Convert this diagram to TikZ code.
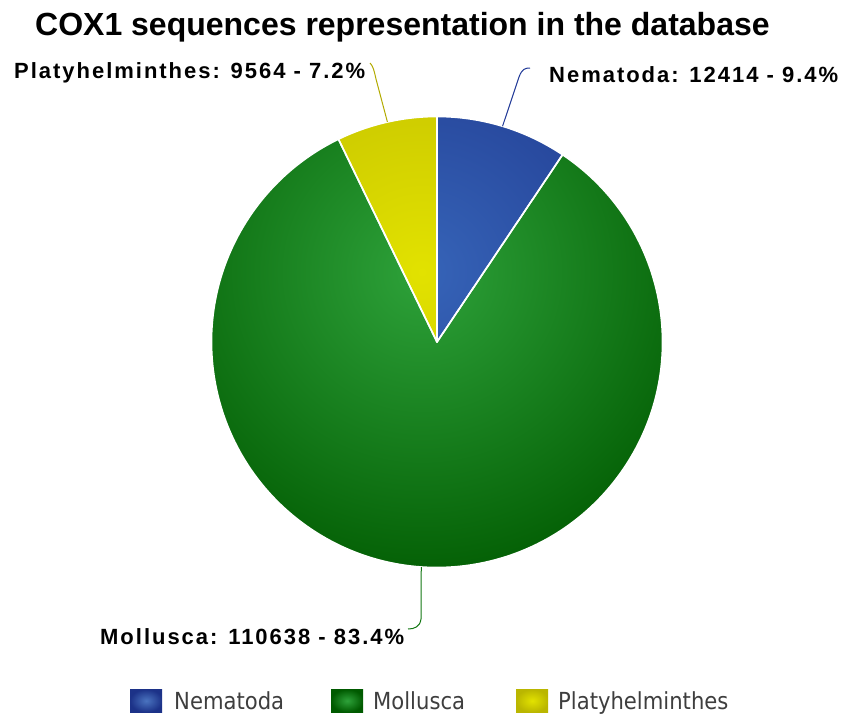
\documentclass[tikz,border=0pt]{standalone}
\usepackage{fontspec}
\usetikzlibrary{calc}
\setmainfont{Liberation Sans}
\newfontfamily\labelfont{Liberation Sans}[LetterSpace=9]
\newfontfamily\legendfont{DejaVu Sans Condensed}

\definecolor{nemIn}{RGB}{54,100,184}
\definecolor{nemOut}{RGB}{28,50,136}
\definecolor{molIn}{RGB}{46,162,58}
\definecolor{molOut}{RGB}{0,90,0}
\definecolor{plaIn}{RGB}{226,226,0}
\definecolor{plaOut}{RGB}{186,182,0}
\definecolor{nemLine}{RGB}{30,55,150}
\definecolor{molLine}{RGB}{20,120,20}
\definecolor{plaLine}{RGB}{178,170,0}
\definecolor{legendText}{RGB}{62,62,62}

% one pie slice between two angles (y axis points down)
\newcommand\pieslice[2]{(C) -- ++(#1:225.5) arc[start angle=#1, end angle=#2, radius=225.5] -- cycle}

\tikzset{
  slicefill/.style n args={2}{inner color=#1, outer color=#2},
  sliceedge/.style={draw=white, line width=1.6pt, line join=round},
  leader/.style={line width=1pt},
  datalabel/.style={font=\labelfont\bfseries\fontsize{22}{24}\selectfont, inner sep=0pt, anchor=base west},
  legendlabel/.style={font=\legendfont\fontsize{23.5}{25}\selectfont, text=legendText, inner sep=0pt, anchor=base west},
  legendkey/.style={minimum width=32pt, minimum height=23pt, inner sep=0pt, anchor=north west}
}

\begin{document}
\begin{tikzpicture}[x=1pt, y=-1pt]
  \useasboundingbox (0,0) rectangle (847,715);

  \coordinate (C) at (437,342);
  \coordinate (G) at (422,272);

  % title
  \node[font=\bfseries\fontsize{32}{36}\selectfont, inner sep=0pt, anchor=base west] (title) at (35,35) {COX1 sequences representation in the database};

  % slices with radial shading
  \begin{scope}
    \clip \pieslice{-90}{-56.16};
    \shade[slicefill={nemIn}{nemOut}] (G) circle[radius=330];
  \end{scope}
  \begin{scope}
    \clip \pieslice{-56.16}{244.08};
    \shade[slicefill={molIn}{molOut}] (G) circle[radius=330];
  \end{scope}
  \begin{scope}
    \clip \pieslice{244.08}{270};
    \shade[slicefill={plaIn}{plaOut}] (G) circle[radius=330];
  \end{scope}
  \path[sliceedge] \pieslice{-90}{-56.16};
  \path[sliceedge] \pieslice{-56.16}{244.08};
  \path[sliceedge] \pieslice{244.08}{270};

  % anchor points on the rim for the leader lines
  \coordinate (nemRim) at ($(C)+(-73.1:225.5)$);
  \coordinate (molRim) at ($(C)+(94:225.5)$);
  \coordinate (plaRim) at ($(C)+(257.3:225.5)$);

  % data labels
  \node[datalabel] (nemLabel) at (549,82) {Nematoda: 12414 - 9.4\%};
  \node[datalabel] (molLabel) at (100,644) {Mollusca: 110638 - 83.4\%};
  \node[datalabel] (plaLabel) at (14,78) {Platyhelminthes: 9564 - 7.2\%};

  \coordinate (nemEnd) at (530,68);
  \coordinate (molEnd) at (408,629);
  \coordinate (plaEnd) at (370,63);

  \draw[leader, nemLine] (nemRim) -- (519,77) .. controls (522,69) and (525,68) .. (nemEnd);
  \draw[leader, molLine] (molRim) -- (421,619) .. controls (420,627) and (414,629) .. (molEnd);
  \draw[leader, plaLine] (plaRim) -- (376,79) .. controls (374,70) and (373,66) .. (plaEnd);

  % legend
  \node[legendkey, inner color=nemIn!90!white, outer color=nemOut] (keyNem) at (130,689) {};
  \node[legendlabel] (txtNem) at (174,709) {Nematoda};
  \node[legendkey, inner color=molIn, outer color=molOut] (keyMol) at (331,689) {};
  \node[legendlabel] (txtMol) at (373,709) {Mollusca};
  \node[legendkey, inner color=plaIn, outer color=plaOut] (keyPla) at (516,689) {};
  \node[legendlabel] (txtPla) at (558,709) {Platyhelminthes};
\end{tikzpicture}
\end{document}
